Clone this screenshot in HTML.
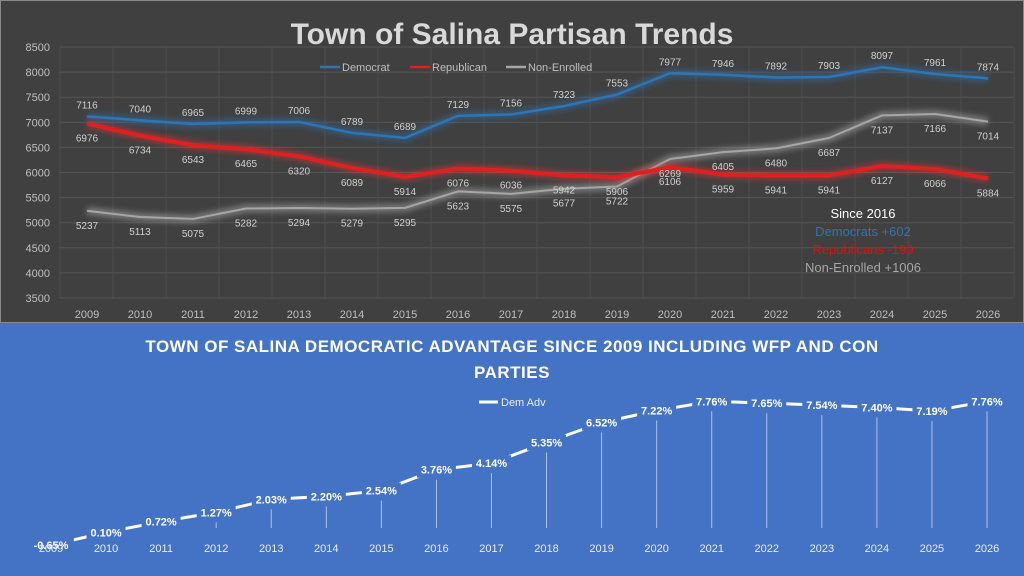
<!DOCTYPE html>
<html><head><meta charset="utf-8"><style>
html,body{margin:0;padding:0;width:1024px;height:576px;overflow:hidden;background:#404040}
svg{display:block}
text{font-family:"Liberation Sans",sans-serif}
</style></head><body>
<svg id="s" width="1024" height="576" xmlns="http://www.w3.org/2000/svg">
<defs>
<filter id="glow" x="-10%" y="-50%" width="120%" height="200%"><feGaussianBlur stdDeviation="3"/></filter>
</defs>
<rect x="0" y="0" width="1024" height="323" fill="#404040"/>
<rect x="0.5" y="0.5" width="1023" height="322" fill="none" stroke="#8a8a8a"/>
<rect x="0" y="323" width="1024" height="253" fill="#4472c4"/>
<text x="512" y="44" text-anchor="middle" font-size="30" font-weight="bold" fill="#d9d9d9">Town of Salina Partisan Trends</text>
<g id="tg"></g>
<text x="512" y="352" text-anchor="middle" font-size="17" font-weight="bold" fill="#fff" letter-spacing="0.5">TOWN OF SALINA DEMOCRATIC ADVANTAGE SINCE 2009 INCLUDING WFP AND CON</text>
<text x="512" y="378" text-anchor="middle" font-size="17" font-weight="bold" fill="#fff" letter-spacing="0.5">PARTIES</text>
<line x1="479" y1="402" x2="498" y2="402" stroke="#fff" stroke-width="3"/>
<text x="501" y="406" font-size="11" fill="#e8eefa">Dem Adv</text>
<g id="bg"></g>
</svg>
<script>
var NS="http://www.w3.org/2000/svg";
function el(p,t,a,txt){var e=document.createElementNS(NS,t);for(var k in a)e.setAttribute(k,a[k]);if(txt!==undefined)e.textContent=txt;p.appendChild(e);return e;}
var tg=document.getElementById('tg'),bg=document.getElementById('bg');
function Y(v){return 47+(8500-v)*0.0502;}
function X(i){return 87+i*53;}
for(var v=3500;v<=8500;v+=500){el(tg,'line',{x1:60,x2:1013,y1:Y(v),y2:Y(v),stroke:'#555',"stroke-width":1});
el(tg,'text',{x:50,y:Y(v)+4,"text-anchor":"end","font-size":11,fill:'#bfbfbf'},v);}
for(var i=0;i<=18;i++){el(tg,'line',{x1:60+i*53,x2:60+i*53,y1:47,y2:298,stroke:'#4e4e4e'});}
var yrs=[];for(var y=2009;y<=2026;y++)yrs.push(y);
yrs.forEach(function(y,i){el(tg,'text',{x:X(i),y:318,"text-anchor":"middle","font-size":11,fill:'#bfbfbf'},y);});
var D=[7116,7040,6965,6999,7006,6789,6689,7129,7156,7323,7553,7977,7946,7892,7903,8097,7961,7874];
var R=[6976,6734,6543,6465,6320,6089,5914,6076,6036,5942,5906,6106,5959,5941,5941,6127,6066,5884];
var N=[5237,5113,5075,5282,5294,5279,5295,5623,5575,5677,5722,6269,6405,6480,6687,7137,7166,7014];
function pts(a){return a.map(function(v,i){return X(i)+','+Y(v)}).join(' ');}
[[N,'#a6a6a6','#bbbbbb',2],[R,'#e02020','#ff3030',4],[D,'#2e75b6','#2e75b6',2.5]].forEach(function(s){
el(tg,'polyline',{points:pts(s[0]),fill:'none',stroke:s[2],"stroke-width":8,opacity:0.45,filter:'url(#glow)'});
el(tg,'polyline',{points:pts(s[0]),fill:'none',stroke:s[1],"stroke-width":s[3],"stroke-linejoin":"round"});});
D.forEach(function(v,i){el(tg,'text',{x:X(i),y:Y(v)-8,"text-anchor":"middle","font-size":10,fill:'#d0d0d0'},v);});
R.forEach(function(v,i){el(tg,'text',{x:X(i),y:Y(v)+18,"text-anchor":"middle","font-size":10,fill:'#d0d0d0'},v);});
N.forEach(function(v,i){el(tg,'text',{x:X(i),y:Y(v)+18,"text-anchor":"middle","font-size":10,fill:'#d0d0d0'},v);});
var lg=[[320,'#2e75b6','Democrat'],[410,'#e02020','Republican'],[506,'#a6a6a6','Non-Enrolled']];
lg.forEach(function(l){el(tg,'line',{x1:l[0],x2:l[0]+20,y1:67,y2:67,stroke:l[1],"stroke-width":2.5});
el(tg,'text',{x:l[0]+22,y:71,"font-size":11,fill:'#bfbfbf'},l[2]);});
el(tg,'text',{x:863,y:218,"text-anchor":"middle","font-size":13,fill:'#fff'},'Since 2016');
el(tg,'text',{x:863,y:236,"text-anchor":"middle","font-size":13,fill:'#2e75b6'},'Democrats +602');
el(tg,'text',{x:863,y:254,"text-anchor":"middle","font-size":13,fill:'#e01010'},'Republicans -199');
el(tg,'text',{x:863,y:272,"text-anchor":"middle","font-size":13,fill:'#a6a6a6'},'Non-Enrolled +1006');
var A=[-0.65,0.10,0.72,1.27,2.03,2.20,2.54,3.76,4.14,5.35,6.52,7.22,7.76,7.65,7.54,7.40,7.19,7.76];
function BX(i){return 51+i*55.06;}
function BY(v){return 534-v*17.1;}
A.forEach(function(v,i){if(BY(v)+10<527)el(bg,'line',{x1:BX(i),x2:BX(i),y1:BY(v)+10,y2:528,stroke:'#c9d6f0',"stroke-width":1,opacity:0.8});});
el(bg,'polyline',{points:A.map(function(v,i){return BX(i)+','+BY(v)}).join(' '),fill:'none',stroke:'#fff',"stroke-width":3});
A.forEach(function(v,i){var t=v.toFixed(2)+'%';var w=t.length*6.6+6;
el(bg,'rect',{x:BX(i)-w/2,y:BY(v)-8,width:w,height:16,fill:'#4472c4'});
el(bg,'text',{x:BX(i),y:BY(v)+4,"text-anchor":"middle","font-size":11,"font-weight":"bold",fill:'#fff'},t);});
yrs.forEach(function(y,i){el(bg,'text',{x:BX(i),y:552,"text-anchor":"middle","font-size":11,fill:'#e8eefa'},y);});
</script>
</body></html>
